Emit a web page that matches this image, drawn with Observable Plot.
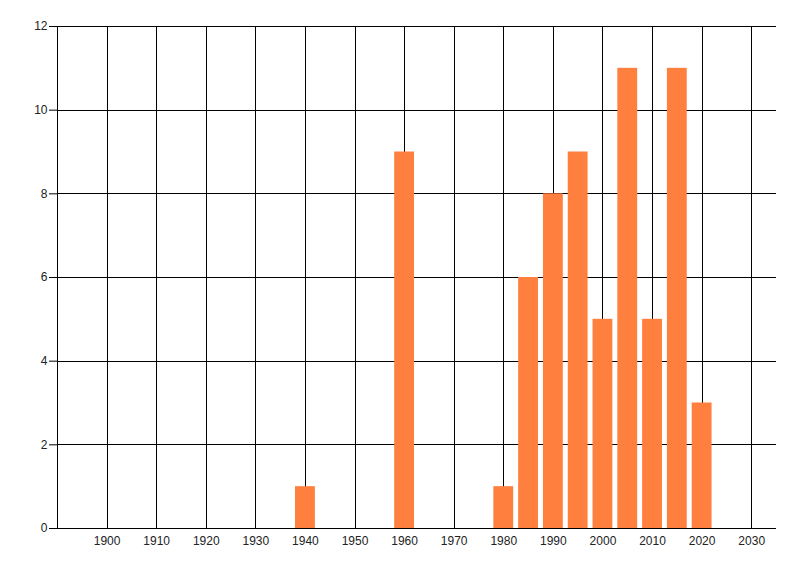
<!DOCTYPE html>
<html>
<head>
<meta charset="utf-8">
<script src="https://cdn.jsdelivr.net/npm/d3@7"></script>
<script src="https://cdn.jsdelivr.net/npm/@observablehq/plot@0.6"></script>
<style>
  html, body { margin: 0; padding: 0; background: #fff; }
  #chart svg { display: block; }
  #chart svg line { shape-rendering: crispEdges; }
</style>
</head>
<body>
<div id="chart"></div>
<script>
// Counts per 5-year bin
const years = [1940, 1960, 1980, 1985, 1990, 1995, 2000, 2005, 2010, 2015, 2020];
const counts = [1, 9, 1, 6, 8, 9, 5, 11, 5, 11, 3];
const xTicks = [1900, 1910, 1920, 1930, 1940, 1950, 1960, 1970, 1980, 1990, 2000, 2010, 2020, 2030];
const yTicks = [0, 2, 4, 6, 8, 10, 12];

const bars = years.map((y, i) => ({ year: y, count: counts[i] }));

const plot = Plot.plot({
  width: 800,
  height: 576,
  marginLeft: 57,
  marginRight: 24,
  marginTop: 26,
  marginBottom: 48,
  style: { fontFamily: "'Liberation Sans', Arial, sans-serif", fontSize: "12px", color: "#222", background: "#fff" },
  x: { domain: [1890, 2035], label: null },
  y: { domain: [0, 12], label: null },
  marks: [
    Plot.ruleX(xTicks, { y1: 0, y2: 12, stroke: "#000", strokeWidth: 1, strokeOpacity: 1 }),
    Plot.ruleY(yTicks, { x1: 1890, x2: 2035, stroke: "#000", strokeWidth: 1, strokeOpacity: 1 }),
    Plot.ruleX([1890], { y1: 0, y2: 12, stroke: "#000" }),
    Plot.rectY(bars, { x1: d => d.year - 2, x2: d => d.year + 2, y: "count", fill: "#FF7F3F", inset: 0 }),
    Plot.ruleY([0], { x1: 1890, x2: 2035, stroke: "#000" }),
    Plot.axisY({ ticks: yTicks, tickSize: 8, tickPadding: 2, stroke: "#000", strokeOpacity: 1, label: null, fill: "#222" }),
    Plot.axisX({ ticks: xTicks, tickSize: 0, tickPadding: 8, tickFormat: d => String(d), label: null, fill: "#222" })
  ]
});

document.getElementById("chart").appendChild(plot);
</script>
</body>
</html>
